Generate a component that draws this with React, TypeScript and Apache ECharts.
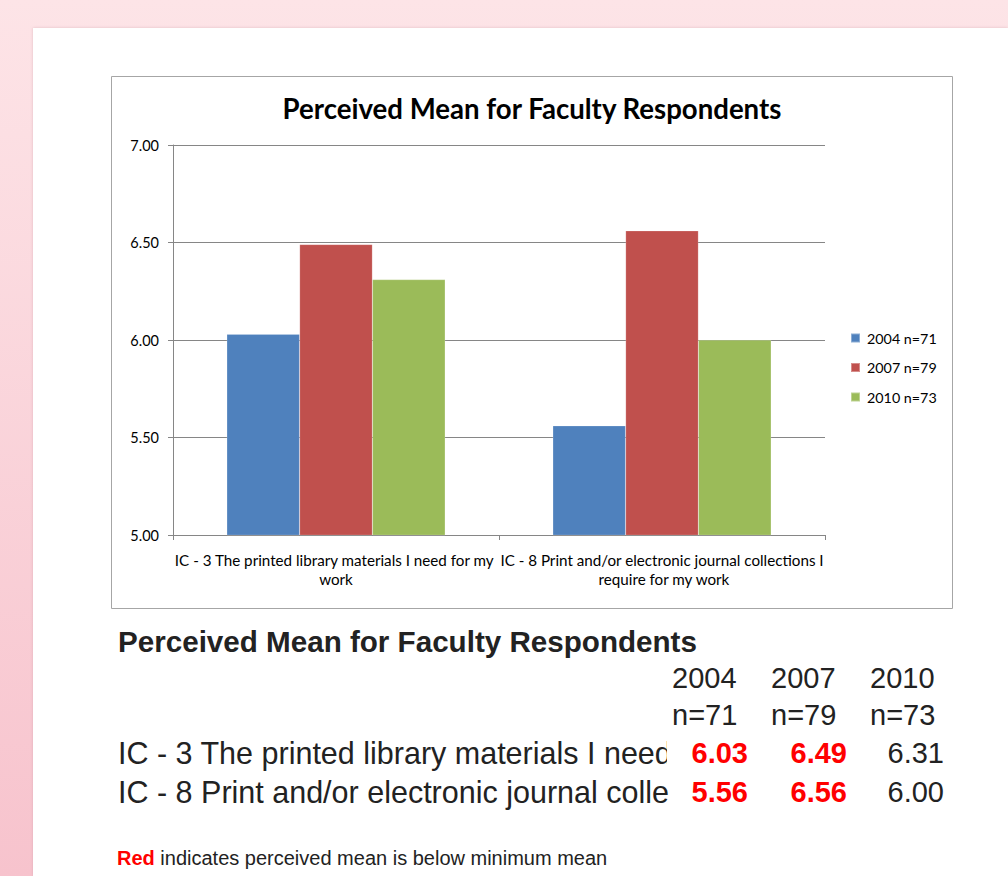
import React, { useEffect, useRef } from "react";
import * as echarts from "echarts";

const categories = [
  "IC - 3 The printed library materials I need for my work",
  "IC - 8 Print and/or electronic journal collections I require for my work",
];
const seriesNames = ["2004 n=71", "2007 n=79", "2010 n=73"];
const values2004 = [6.03, 5.56];
const values2007 = [6.49, 6.56];
const values2010 = [6.31, 6.0];
const colors = ["#4F81BD", "#C0504D", "#9BBB59"];
const yTicks = { min: 5, max: 7, interval: 0.5 };

const tableTitle = "Perceived Mean for Faculty Respondents";
const tableYears = ["2004", "2007", "2010"];
const tableN = ["n=71", "n=79", "n=73"];
const tableRowLabels = [
  "IC - 3 The printed library materials I need",
  "IC - 8 Print and/or electronic journal colle",
];
const tableValues = [
  ["6.03", "6.49", "6.31"],
  ["5.56", "6.56", "6.00"],
];
const tableRed = [
  [true, true, false],
  [true, true, false],
];

const CHART_FONT = "Lato, 'Open Sans', sans-serif";
const TABLE_FONT = "'Liberation Sans', Arial, sans-serif";

export default function App() {
  const ref = useRef<HTMLDivElement>(null);
  useEffect(() => {
    if (!ref.current) return;
    const chart = echarts.init(ref.current, null, { renderer: "svg" });

    const headerLeft = [672, 771, 870];
    const valueRight = [748, 847, 944];
    const rowY = [753, 792];

    const graphics: any[] = [
      {
        type: "rect",
        z: -20,
        shape: { x: 0, y: 0, width: 1008, height: 876 },
        style: {
          fill: new echarts.graphic.LinearGradient(0, 0, 0, 1, [
            { offset: 0, color: "#FDE4E7" },
            { offset: 1, color: "#F7C3CD" },
          ]),
        },
        silent: true,
      },
      {
        type: "rect",
        z: -19,
        shape: { x: 33, y: 28, width: 975, height: 848 },
        style: { fill: "#FFFFFF", shadowBlur: 3, shadowColor: "rgba(200,150,160,0.5)" },
        silent: true,
      },
      {
        type: "rect",
        z: -18,
        shape: { x: 111.5, y: 76.5, width: 841, height: 532 },
        style: { fill: "#FFFFFF", stroke: "#A6A6A6", lineWidth: 1 },
        silent: true,
      },
      {
        type: "text",
        x: 118,
        y: 641,
        style: {
          text: tableTitle,
          font: `bold 29.6px ${TABLE_FONT}`,
          fill: "#222222",
          verticalAlign: "middle",
        },
      },
    ];

    tableYears.forEach((t, i) => {
      graphics.push({
        type: "text",
        x: headerLeft[i],
        y: 678,
        style: { text: t, font: `29px ${TABLE_FONT}`, fill: "#222222", verticalAlign: "middle" },
      });
      graphics.push({
        type: "text",
        x: headerLeft[i],
        y: 715,
        style: { text: tableN[i], font: `29px ${TABLE_FONT}`, fill: "#222222", verticalAlign: "middle" },
      });
    });

    tableRowLabels.forEach((t, r) => {
      graphics.push({
        type: "text",
        x: 118,
        y: rowY[r],
        style: { text: t, font: `30.5px ${TABLE_FONT}`, fill: "#222222", verticalAlign: "middle" },
      });
    });
    graphics.push({
      type: "rect",
      shape: { x: 667, y: 735, width: 22, height: 36 },
      style: { fill: "#FFFFFF" },
      silent: true,
    });
    tableValues.forEach((row, r) => {
      row.forEach((v, c) => {
        graphics.push({
          type: "text",
          x: valueRight[c],
          y: rowY[r],
          style: {
            text: v,
            font: `${tableRed[r][c] ? "bold " : ""}29px ${TABLE_FONT}`,
            fill: tableRed[r][c] ? "#FF0000" : "#222222",
            align: "right",
            verticalAlign: "middle",
          },
        });
      });
    });

    graphics.push({
      type: "text",
      x: 117,
      y: 858,
      style: {
        text: "{r|Red} indicates perceived mean is below minimum mean",
        font: `20px ${TABLE_FONT}`,
        fill: "#222222",
        verticalAlign: "middle",
        rich: {
          r: { font: `bold 20px ${TABLE_FONT}`, fill: "#FF0000" },
        },
      },
    });

    const option: any = {
      animation: false,
      title: {
        text: tableTitle,
        left: 527,
        textAlign: "center",
        top: 89,
        textStyle: { fontFamily: CHART_FONT, fontWeight: "bold", fontSize: 27.6, color: "#000000" },
      },
      legend: {
        orient: "vertical",
        left: 845,
        top: 326,
        itemWidth: 9,
        itemHeight: 9,
        itemGap: 15.5,
        icon: "rect",
        data: seriesNames,
        textStyle: { fontFamily: CHART_FONT, fontSize: 14.3, color: "#000000", padding: [0, 0, 0, 2] },
      },
      grid: { left: 173, top: 145, width: 652, height: 390, containLabel: false },
      xAxis: {
        type: "category",
        data: categories,
        axisLine: { lineStyle: { color: "#868686" } },
        axisTick: { show: true, length: 5, lineStyle: { color: "#868686" } },
        axisLabel: {
          fontFamily: CHART_FONT,
          fontSize: 15.2,
          color: "#000000",
          margin: 15,
          width: 326,
          overflow: "break",
          lineHeight: 19,
          interval: 0,
        },
      },
      yAxis: {
        type: "value",
        min: yTicks.min,
        max: yTicks.max,
        interval: yTicks.interval,
        axisLine: { show: true, lineStyle: { color: "#868686" } },
        axisTick: { show: true, length: 5, lineStyle: { color: "#868686" } },
        splitLine: { lineStyle: { color: "#868686" } },
        axisLabel: {
          fontFamily: CHART_FONT,
          fontSize: 14.5,
          color: "#000000",
          margin: 14,
          formatter: (v: number) => v.toFixed(2),
        },
      },
      series: [values2004, values2007, values2010].map((d, i) => ({
        name: seriesNames[i],
        type: "bar",
        data: d,
        barGap: "0%",
        barCategoryGap: "33%",
        itemStyle: { color: colors[i], borderColor: "rgba(255,255,255,0.35)", borderWidth: 0.5 },
      })),
      graphic: { elements: graphics },
    };
    chart.setOption(option);
    return () => chart.dispose();
  }, []);

  return (
    <div
      ref={ref}
      style={{ position: "absolute", left: 0, top: 0, width: 1008, height: 876 }}
    />
  );
}
